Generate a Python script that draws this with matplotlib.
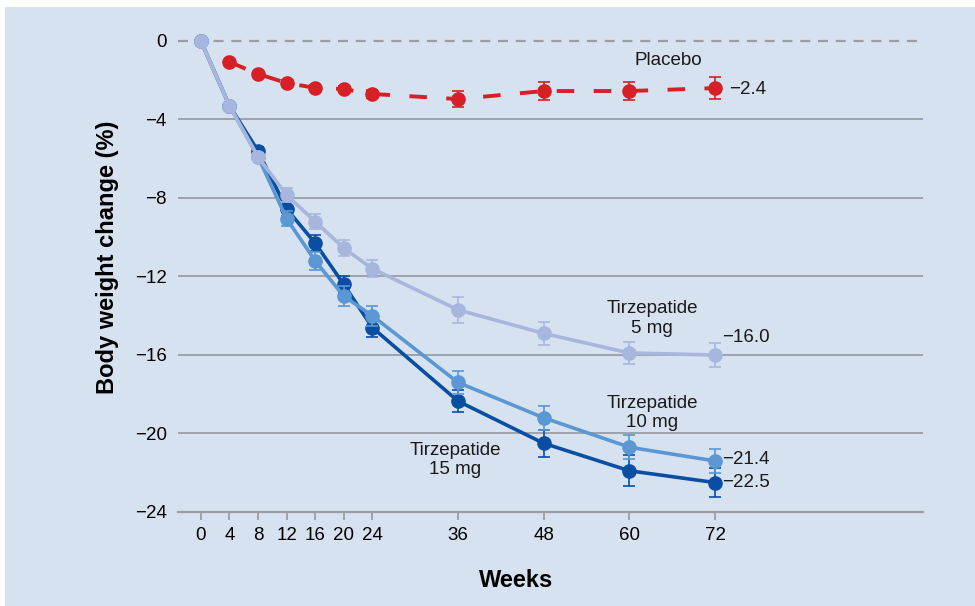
import matplotlib.pyplot as plt
from matplotlib.patches import Rectangle

plt.rcParams['font.family'] = ['Liberation Sans', 'DejaVu Sans']

weeks = [0, 4, 8, 12, 16, 20, 24, 36, 48, 60, 72]

placebo = [0, -1.07, -1.68, -2.14, -2.39, -2.45, -2.70, -2.96, -2.55, -2.55, -2.4]
placebo_err = [0, 0.1, 0.1, 0.15, 0.15, 0.15, 0.2, 0.4, 0.45, 0.45, 0.55]

tirz5 = [0, -3.3, -5.9, -7.85, -9.2, -10.55, -11.6, -13.7, -14.9, -15.9, -16.0]
tirz5_err = [0, 0.15, 0.2, 0.35, 0.4, 0.4, 0.45, 0.65, 0.6, 0.55, 0.6]

tirz10 = [0, -3.3, -5.9, -9.05, -11.2, -13.0, -14.0, -17.4, -19.2, -20.7, -21.4]
tirz10_err = [0, 0.15, 0.2, 0.4, 0.45, 0.5, 0.5, 0.6, 0.6, 0.6, 0.6]

tirz15 = [0, -3.3, -5.6, -8.55, -10.3, -12.4, -14.6, -18.35, -20.5, -21.9, -22.5]
tirz15_err = [0, 0.15, 0.2, 0.35, 0.4, 0.45, 0.5, 0.55, 0.7, 0.8, 0.75]

yticks = [0, -4, -8, -12, -16, -20, -24]
ytick_labels = ['0', '\u22124', '\u22128', '\u221212', '\u221216', '\u221220', '\u221224']

red = '#d71f26'
dark = '#0a4ea3'
mid = '#5b97d3'
light = '#a8b6de'
grid = '#9a9ea3'
bg = '#d6e2ef'

fig = plt.figure(figsize=(9.75, 6.06), dpi=100, facecolor='white')
fig.patches.append(Rectangle((5 / 975, 0), 1, 1 - 7 / 606, transform=fig.transFigure,
                             facecolor=bg, edgecolor='none', zorder=-10))
ax = fig.add_axes([178 / 975, 1 - 512 / 606, (923 - 178) / 975, (512 - 29.2) / 606])
ax.set_facecolor('none')

ax.set_xlim(-3.2, 101.1)
ax.set_ylim(-24, 0.6)

for y in yticks[1:-1]:
    ax.axhline(y, color=grid, lw=1.3, zorder=1)
ax.axhline(0, color=grid, lw=1.6, ls=(0, (4.5, 3.5)), zorder=1)

for side in ['top', 'right', 'left']:
    ax.spines[side].set_visible(False)
ax.spines['bottom'].set_color(grid)
ax.spines['bottom'].set_linewidth(1.6)

ax.set_xticks(weeks)
ax.set_xticklabels([str(w) for w in weeks])
ax.set_yticks(yticks)
ax.set_yticklabels(ytick_labels)
ax.tick_params(axis='x', length=6, width=1.3, color=grid, labelsize=13.5, pad=5)
ax.tick_params(axis='y', length=0, labelsize=13.5, pad=8)

xl = ax.set_xlabel('Weeks', fontsize=17, fontweight='bold')
yl = ax.set_ylabel('Body weight change (%)', fontsize=17, fontweight='bold')
ax.xaxis.set_label_coords(0.454, -0.141)
ax.yaxis.set_label_coords(-0.094, 0.528)
xl.set_va('center')
yl.set_va('center')

pl = ax.errorbar(weeks[1:], placebo[1:], yerr=placebo_err[1:], color=red, lw=2.8,
                 marker='o', ms=9.5, capsize=4, elinewidth=1.2, capthick=1.2, zorder=3)
pl.lines[0].set_dashes((4.5, 5))

series = [(tirz15, tirz15_err, dark), (tirz10, tirz10_err, mid), (tirz5, tirz5_err, light)]
for i, (vals, err, c) in enumerate(series):
    ax.errorbar(weeks, vals, yerr=err, color=c, lw=2.6, marker='o', ms=9.5,
                capsize=4, elinewidth=1.2, capthick=1.2, zorder=4 + i)

txt = dict(fontsize=13.5, color='#1a1a1a')
ax.text(65.4, -0.97, 'Placebo', ha='center', va='center', **txt)
ax.text(74.0, -2.45, '\u22122.4', ha='left', va='center', **txt)
ax.text(63.2, -14.15, 'Tirzepatide\n5 mg', ha='center', va='center', linespacing=1.2, **txt)
ax.text(73.0, -15.1, '\u221216.0', ha='left', va='center', **txt)
ax.text(63.2, -18.95, 'Tirzepatide\n10 mg', ha='center', va='center', linespacing=1.2, **txt)
ax.text(73.0, -21.3, '\u221221.4', ha='left', va='center', **txt)
ax.text(73.0, -22.5, '\u221222.5', ha='left', va='center', **txt)
ax.text(35.6, -21.35, 'Tirzepatide\n15 mg', ha='center', va='center', linespacing=1.2, **txt)

fig.savefig('out.png', dpi=100, facecolor=fig.get_facecolor())
